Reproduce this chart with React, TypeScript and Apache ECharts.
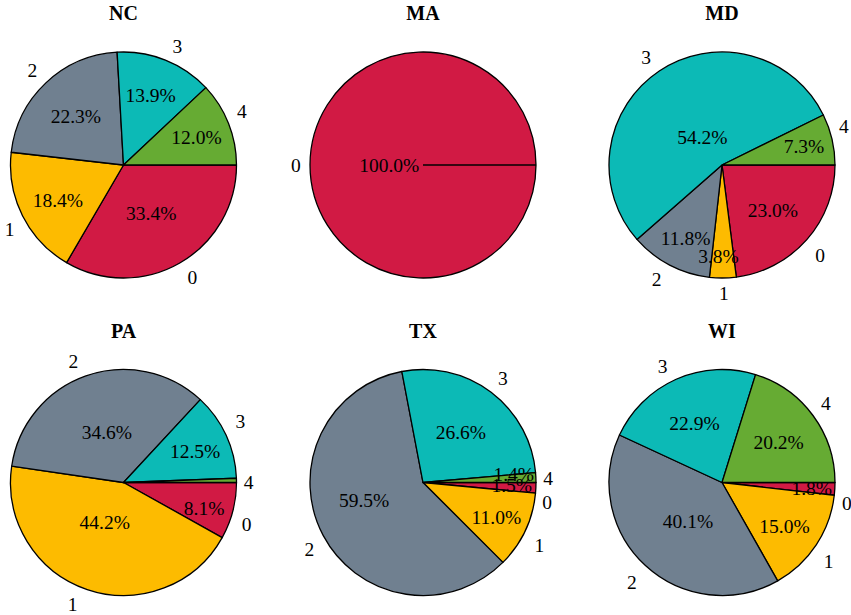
import React, { useEffect, useRef } from "react";
import * as echarts from "echarts";

// Slice categories (0–4) and their colours
const categories = ["0", "1", "2", "3", "4"];
const sliceColors = ["#d11a44", "#fdbb00", "#708090", "#0cbab6", "#66ab33"];

// Percentage share of each category per state
const states = ["NC", "MA", "MD", "PA", "TX", "WI"];
const ncShares = [33.4, 18.4, 22.3, 13.9, 12.0];
const maShares = [100.0];
const mdShares = [23.0, 3.8, 11.8, 54.2, 7.3];
const paShares = [8.1, 44.2, 34.6, 12.5, 0.6];
const txShares = [1.5, 11.0, 59.5, 26.6, 1.4];
const wiShares = [1.8, 15.0, 40.1, 22.9, 20.2];

const sharesByState = [ncShares, maShares, mdShares, paShares, txShares, wiShares];

// Hand-tuned label nudges [dx, dy] in px, so labels don't collide
const pctNudge: number[][][] = [
  [[-6, -10], [-5, 5], [-1, 1], [2, -7], [10, -3]],
  [[34, 0]],
  [[0, 1], [-4, 24], [-5, 13], [18, 29], [16, -3]],
  [[15, 9], [3, -24], [6, 14], [10, -3], [0, 0]],
  [[21, 0], [12, 6], [1, -14], [-3, 4], [23, -5]],
  [[22, 2], [6, 7], [12, -11], [0, 3], [2, 0]],
];
const catNudge: number[][][] = [
  [[2, 5], [2, 9], [-1, -4], [3, -3], [-2, -8]],
  [[2, 0]],
  [[0, 8], [-4, 4], [-3, 4], [-2, -4], [-4, -10]],
  [[-2, 11], [-6, 4], [-4, -4], [-1, -9], [-4, 2]],
  [[-5, 14], [-1, 10], [1, 9], [0, -5], [-4, 1]],
  [[-4, 14], [-2, 10], [-1, 9], [-4, -2], [-1, -5]],
];

// Grid layout
const W = 851;
const H = 615;
const colX = [123.5, 423, 722];
const rowY = [165, 482.5];
const R = 113;
const FONT = "Liberation Serif";
const FS = 19.5;

export default function App() {
  const ref = useRef<HTMLDivElement>(null);

  useEffect(() => {
    if (!ref.current) return;
    const chart = echarts.init(ref.current, undefined, { renderer: "svg" });

    const series: any[] = [];
    const titles: any[] = [];
    const graphics: any[] = [];

    states.forEach((st, k) => {
      const cx = colX[k % 3];
      const cy = rowY[Math.floor(k / 3)];
      const shares = sharesByState[k];
      const data = shares.map((v, i) => ({
        name: categories[i],
        value: v,
        itemStyle: { color: sliceColors[i] },
      }));

      titles.push({
        text: st,
        left: cx,
        top: cy - 162,
        textAlign: "center",
        padding: 0,
        textStyle: { fontFamily: FONT, fontSize: 20, fontWeight: "bold", color: "#000" },
      });

      // wedges with category labels outside
      series.push({
        type: "pie",
        center: [cx, cy],
        radius: R,
        startAngle: 0,
        clockwise: true,
        silent: true,
        animation: false,
        avoidLabelOverlap: false,
        itemStyle: { borderColor: "#000", borderWidth: 1.3 },
        label: {
          show: true,
          position: "outside",
          formatter: "{b}",
          fontFamily: FONT,
          fontSize: FS,
          color: "#000",
          distanceToLabelLine: 0,
        },
        labelLine: { show: false, length: R * 0.1, length2: 0 },
        labelLayout: (p: any) => {
          const n = catNudge[k][p.dataIndex] || [0, 0];
          return { dx: n[0], dy: n[1], hideOverlap: false };
        },
        emphasis: { disabled: true },
        data,
      });

      // percentage labels at 0.6 of the radius (inside label sits at (r0 + r) / 2 + 3)
      series.push({
        type: "pie",
        center: [cx, cy],
        radius: [R * 0.2 - 6, R],
        startAngle: 0,
        clockwise: true,
        silent: true,
        animation: false,
        avoidLabelOverlap: false,
        z: 5,
        minShowLabelAngle: 3,
        itemStyle: { color: "rgba(0,0,0,0)", borderWidth: 0 },
        label: {
          show: true,
          position: "inside",
          formatter: (p: any) => `${p.value.toFixed(1)}%`,
          fontFamily: FONT,
          fontSize: FS,
          color: "#000",
        },
        labelLine: { show: false },
        labelLayout: (p: any) => {
          const n = pctNudge[k][p.dataIndex] || [0, 0];
          return { dx: n[0], dy: n[1], hideOverlap: false };
        },
        emphasis: { disabled: true },
        data: shares.map((v, i) => ({ name: categories[i], value: v })),
      });

      // a single full wedge still shows its start edge
      if (shares.length === 1) {
        graphics.push({
          type: "line",
          shape: { x1: cx, y1: cy, x2: cx + R, y2: cy },
          style: { stroke: "#000", lineWidth: 1.3 },
          z: 10,
        });
      }
    });

    chart.setOption({
      animation: false,
      backgroundColor: "#fff",
      title: titles,
      series,
      graphic: graphics,
    });

    return () => chart.dispose();
  }, []);

  return (
    <div
      ref={ref}
      style={{ position: "fixed", left: 0, top: 0, width: W, height: H, background: "#fff" }}
    />
  );
}
